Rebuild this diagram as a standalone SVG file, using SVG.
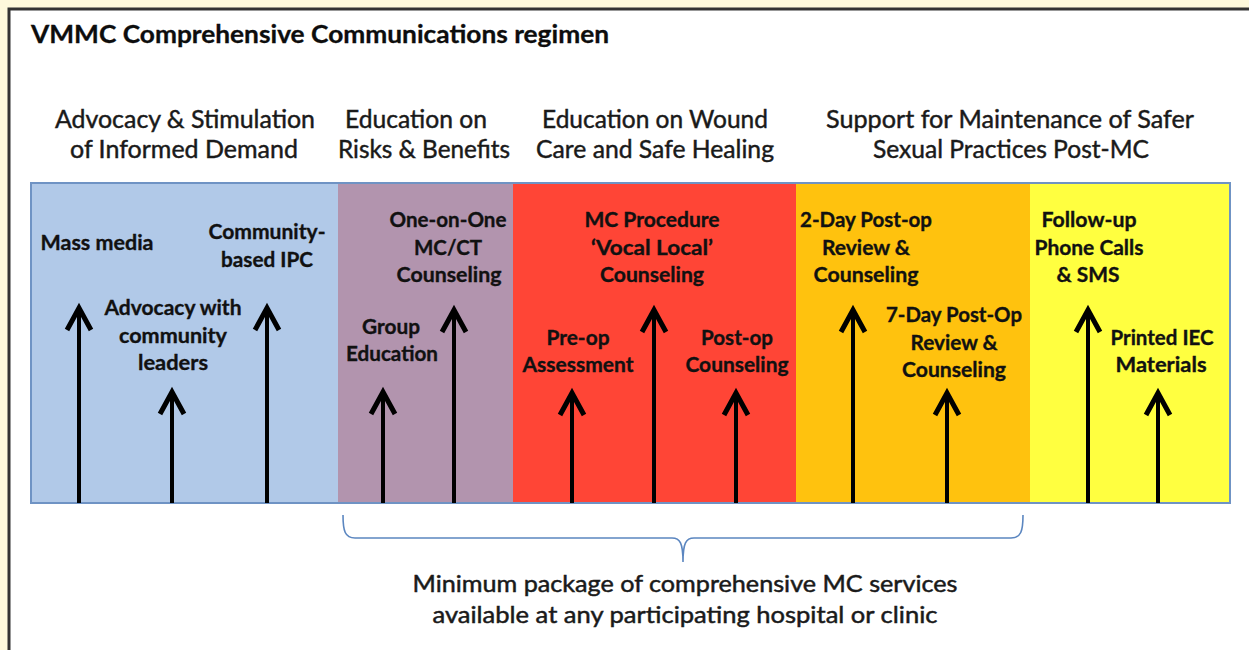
<svg xmlns="http://www.w3.org/2000/svg" width="1249" height="650" viewBox="0 0 1249 650">
  <style>
    .title { font-family: "Lato", "Liberation Sans", sans-serif; font-weight: 700; font-size: 24px; fill: #0d0d0d; stroke: #0d0d0d; stroke-width: 0.3; }
    .head { font-family: "Lato", "Liberation Sans", sans-serif; font-weight: 400; font-size: 25px; fill: #1a1a1a; stroke: #1a1a1a; stroke-width: 0.45; text-anchor: middle; }
    .lbl { font-family: "Lato", "Liberation Sans", sans-serif; font-weight: 700; font-size: 21px; fill: #111111; stroke: #111111; stroke-width: 0.35; text-anchor: middle; }
    .note { font-family: "Lato", "Liberation Sans", sans-serif; font-weight: 400; font-size: 24px; fill: #1a1a1a; stroke: #1a1a1a; stroke-width: 0.5; text-anchor: middle; }
    .arrow { stroke: #000000; stroke-width: 4; fill: none; marker-end: url(#chevron); }
    .brace { stroke: #5b86c0; stroke-width: 1.6; fill: none; }
  </style>
  <defs>
    <marker id="chevron" markerUnits="userSpaceOnUse" viewBox="-30 -16 36 32" refX="0" refY="0" markerWidth="36" markerHeight="32" orient="auto" overflow="visible">
      <path d="M-22,-12 L0,0 L-22,12" fill="none" stroke="#000000" stroke-width="5" stroke-linejoin="miter" stroke-miterlimit="10"/>
    </marker>
  </defs>

  <!-- page background and framed panel -->
  <rect x="0" y="0" width="1249" height="650" fill="#fef9dc"/>
  <rect x="9" y="9" width="1260" height="660" fill="#ffffff" stroke="#333333" stroke-width="3"/>

  <text class="title" x="31" y="43" textLength="578" lengthAdjust="spacingAndGlyphs">VMMC Comprehensive Communications regimen</text>

  <!-- phase headings -->
  <g id="headings">
    <text class="head" x="185" y="128" textLength="260" lengthAdjust="spacingAndGlyphs">Advocacy &amp; Stimulation</text>
    <text class="head" x="184" y="158" textLength="228" lengthAdjust="spacingAndGlyphs">of Informed Demand</text>
    <text class="head" x="416" y="128" textLength="142" lengthAdjust="spacingAndGlyphs">Education on</text>
    <text class="head" x="424" y="158" textLength="172" lengthAdjust="spacingAndGlyphs">Risks &amp; Benefits</text>
    <text class="head" x="655" y="128" textLength="226" lengthAdjust="spacingAndGlyphs">Education on Wound</text>
    <text class="head" x="655" y="158" textLength="238" lengthAdjust="spacingAndGlyphs">Care and Safe Healing</text>
    <text class="head" x="1010" y="128" textLength="368" lengthAdjust="spacingAndGlyphs">Support for Maintenance of Safer</text>
    <text class="head" x="1011" y="158" textLength="276" lengthAdjust="spacingAndGlyphs">Sexual Practices Post-MC</text>
  </g>

  <!-- coloured phase band -->
  <g id="band">
    <rect x="31" y="183" width="307" height="320" fill="#b1c9e8"/>
    <rect x="338" y="183" width="175" height="320" fill="#b294ae"/>
    <rect x="513" y="183" width="283" height="320" fill="#ff4536"/>
    <rect x="796" y="183" width="234" height="320" fill="#ffc20e"/>
    <rect x="1030" y="183" width="200" height="320" fill="#ffff40"/>
    <rect x="31" y="183" width="1199" height="320" fill="none" stroke="#6f93c4" stroke-width="2"/>
  </g>

  <!-- arrows rising from the base of the band -->
  <g id="connectors">
    <line class="arrow" x1="79" y1="503" x2="79" y2="308"/>
    <line class="arrow" x1="172" y1="503" x2="172" y2="392"/>
    <line class="arrow" x1="267" y1="503" x2="267" y2="308"/>
    <line class="arrow" x1="383" y1="503" x2="383" y2="392"/>
    <line class="arrow" x1="454" y1="503" x2="454" y2="310"/>
    <line class="arrow" x1="572" y1="503" x2="572" y2="393"/>
    <line class="arrow" x1="654" y1="503" x2="654" y2="310"/>
    <line class="arrow" x1="736" y1="503" x2="736" y2="393"/>
    <line class="arrow" x1="853" y1="503" x2="853" y2="310"/>
    <line class="arrow" x1="947" y1="503" x2="947" y2="393"/>
    <line class="arrow" x1="1088" y1="503" x2="1088" y2="310"/>
    <line class="arrow" x1="1158" y1="503" x2="1158" y2="393"/>
  </g>

  <g id="mass-media">
    <text class="lbl" x="97" y="250" textLength="113" lengthAdjust="spacingAndGlyphs">Mass media</text>
  </g>
  <g id="advocacy-leaders">
    <text class="lbl" x="173" y="315" textLength="137" lengthAdjust="spacingAndGlyphs">Advocacy with</text>
    <text class="lbl" x="173" y="343" textLength="108" lengthAdjust="spacingAndGlyphs">community</text>
    <text class="lbl" x="173" y="370" textLength="70" lengthAdjust="spacingAndGlyphs">leaders</text>
  </g>
  <g id="community-ipc">
    <text class="lbl" x="267" y="239" textLength="117" lengthAdjust="spacingAndGlyphs">Community-</text>
    <text class="lbl" x="267" y="267" textLength="92" lengthAdjust="spacingAndGlyphs">based IPC</text>
  </g>
  <g id="group-education">
    <text class="lbl" x="391" y="334" textLength="58" lengthAdjust="spacingAndGlyphs">Group</text>
    <text class="lbl" x="392" y="361" textLength="92" lengthAdjust="spacingAndGlyphs">Education</text>
  </g>
  <g id="one-on-one">
    <text class="lbl" x="448" y="227" textLength="117" lengthAdjust="spacingAndGlyphs">One-on-One</text>
    <text class="lbl" x="448" y="255" textLength="68" lengthAdjust="spacingAndGlyphs">MC/CT</text>
    <text class="lbl" x="449" y="282" textLength="105" lengthAdjust="spacingAndGlyphs">Counseling</text>
  </g>
  <g id="pre-op">
    <text class="lbl" x="578" y="345" textLength="63" lengthAdjust="spacingAndGlyphs">Pre-op</text>
    <text class="lbl" x="578" y="372" textLength="111" lengthAdjust="spacingAndGlyphs">Assessment</text>
  </g>
  <g id="mc-procedure">
    <text class="lbl" x="652" y="227" textLength="135" lengthAdjust="spacingAndGlyphs">MC Procedure</text>
    <text class="lbl" x="652" y="255" textLength="122" lengthAdjust="spacingAndGlyphs">‘Vocal Local’</text>
    <text class="lbl" x="652" y="282" textLength="104" lengthAdjust="spacingAndGlyphs">Counseling</text>
  </g>
  <g id="post-op">
    <text class="lbl" x="737" y="345" textLength="72" lengthAdjust="spacingAndGlyphs">Post-op</text>
    <text class="lbl" x="737" y="372" textLength="103" lengthAdjust="spacingAndGlyphs">Counseling</text>
  </g>
  <g id="two-day">
    <text class="lbl" x="866" y="227" textLength="132" lengthAdjust="spacingAndGlyphs">2-Day Post-op</text>
    <text class="lbl" x="866" y="255" textLength="88" lengthAdjust="spacingAndGlyphs">Review &amp;</text>
    <text class="lbl" x="866" y="282" textLength="105" lengthAdjust="spacingAndGlyphs">Counseling</text>
  </g>
  <g id="seven-day">
    <text class="lbl" x="954" y="322" textLength="136" lengthAdjust="spacingAndGlyphs">7-Day Post-Op</text>
    <text class="lbl" x="954" y="350" textLength="87" lengthAdjust="spacingAndGlyphs">Review &amp;</text>
    <text class="lbl" x="954" y="377" textLength="104" lengthAdjust="spacingAndGlyphs">Counseling</text>
  </g>
  <g id="follow-up">
    <text class="lbl" x="1089" y="227" textLength="95" lengthAdjust="spacingAndGlyphs">Follow-up</text>
    <text class="lbl" x="1089" y="255" textLength="109" lengthAdjust="spacingAndGlyphs">Phone Calls</text>
    <text class="lbl" x="1088" y="282" textLength="63" lengthAdjust="spacingAndGlyphs">&amp; SMS</text>
  </g>
  <g id="printed-iec">
    <text class="lbl" x="1162" y="345" textLength="103" lengthAdjust="spacingAndGlyphs">Printed IEC</text>
    <text class="lbl" x="1161" y="372" textLength="91" lengthAdjust="spacingAndGlyphs">Materials</text>
  </g>

  <!-- brace spanning the minimum service package -->
  <g id="minimum-package">
    <path class="brace" d="M343,515 C343,531 345,538 355,538 L672,538 C680,538 683,543 683,562 C683,543 686,538 694,538 L1011,538 C1021,538 1023,531 1023,515"/>
    <text class="note" x="685" y="592" textLength="545" lengthAdjust="spacingAndGlyphs">Minimum package of comprehensive  MC services</text>
    <text class="note" x="685" y="623" textLength="505" lengthAdjust="spacingAndGlyphs">available at any participating hospital or clinic</text>
  </g>
</svg>
